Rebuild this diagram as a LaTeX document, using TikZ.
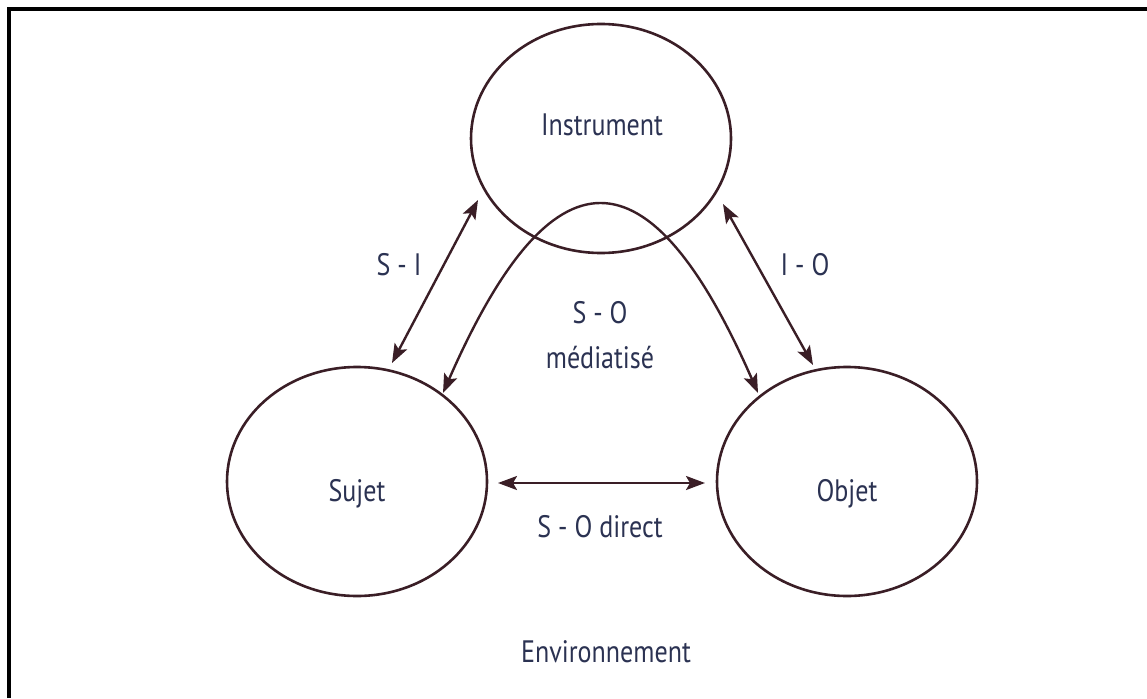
\documentclass[tikz,border=0pt]{standalone}
\usepackage{fontspec}
\setmainfont[FakeStretch=0.84]{PT Sans}
\usetikzlibrary{shapes.geometric,arrows.meta}
\definecolor{linec}{HTML}{3A1E26}
\definecolor{textc}{HTML}{2B3252}
\tikzset{
  circ/.style={ellipse, draw=linec, line width=2.6pt, minimum width=260pt, minimum height=229pt, inner sep=0pt},
  lbl/.style={text=textc, font=\fontsize{31}{36}\selectfont, inner sep=0pt, anchor=center},
  tip/.style={Stealth[length=19pt,width=14pt,inset=4pt]},
  conn/.style={draw=linec, line width=2.4pt, {Stealth[length=19pt,width=14pt,inset=4pt]}-{Stealth[length=19pt,width=14pt,inset=4pt]}},
  frame/.style={line width=3.8pt, black}
}
\begin{document}
\begin{tikzpicture}[x=1pt,y=-1pt]
\useasboundingbox (0,0) rectangle (1147,698);
\draw[frame] (8.7,698) -- (8.7,9.2) -- (1147,9.2);
\node[circ] (instr) at (601,138.5) {};
\node[circ] (sujet) at (357,481.5) {};
\node[circ] (objet) at (847,481.5) {};
\node[lbl] (tinstr) at (602,125) {Instrument};
\node[lbl] (tsujet) at (357,494) {Sujet};
\node[lbl] (tobjet) at (847,494) {Objet};
\coordinate (si1) at (478,200);
\coordinate (si2) at (392,363);
\coordinate (io1) at (723,204);
\coordinate (io2) at (813,365);
\coordinate (sm1) at (443,393);
\coordinate (sm2) at (758,393);
\coordinate (sd1) at (498,483);
\coordinate (sd2) at (705,483);
\draw[conn] (si1) -- (si2);
\draw[conn] (io1) -- (io2);
\draw[conn] (sd1) -- (sd2);
\draw[conn] (sm1) .. controls (552,144) and (649,144) .. (sm2);
\node[lbl] (lsi) at (399,265) {S - I};
\node[lbl] (lio) at (805,265) {I - O};
\node[lbl] (lsm) at (600,313) {S - O};
\node[lbl] (lmed) at (600,358) {médiatisé};
\node[lbl] (lsd) at (600,527) {S - O direct};
\node[lbl] (lenv) at (606,652) {Environnement};
\end{tikzpicture}
\end{document}
